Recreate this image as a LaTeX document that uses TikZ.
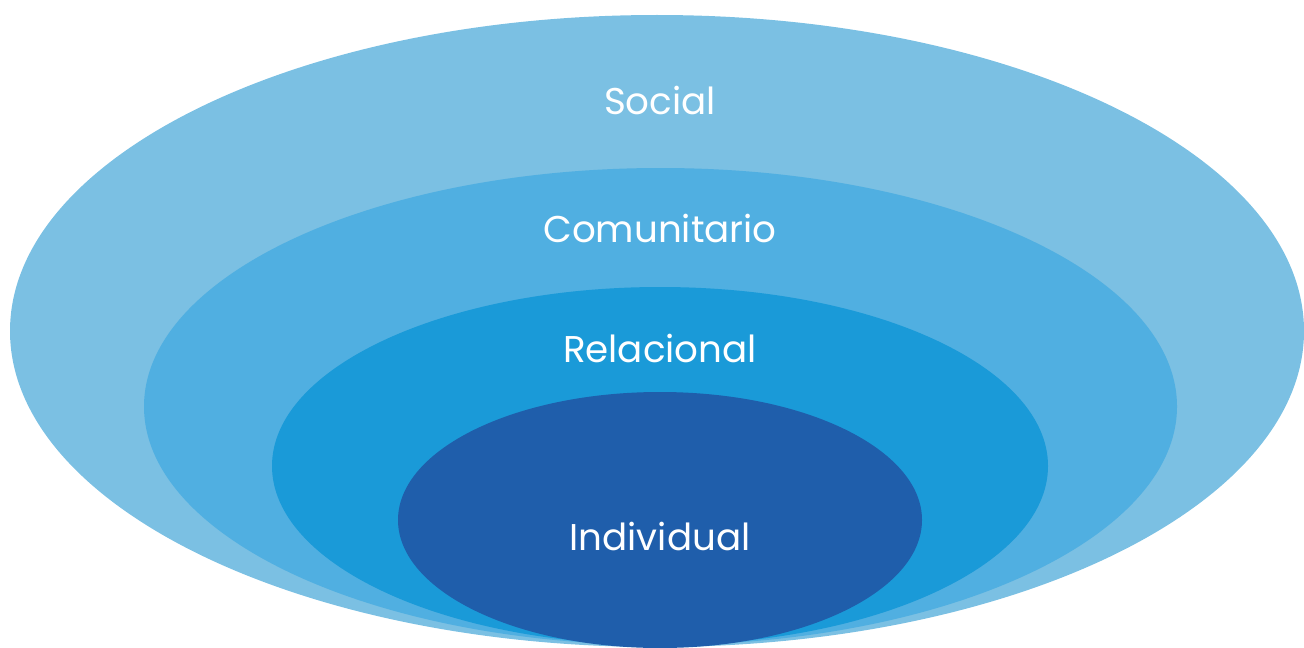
\documentclass[tikz,border=0pt]{standalone}
\usepackage{fontspec}
\setmainfont{Poppins}
\definecolor{socialblue}{HTML}{7BC0E3}
\definecolor{comblue}{HTML}{50AFE1}
\definecolor{relblue}{HTML}{1A9AD8}
\definecolor{indblue}{HTML}{1F5EAB}
\tikzset{level/.style={text=white, font=\fontsize{21.2}{25}\selectfont}}
\begin{document}
\begin{tikzpicture}[x=0.02cm, y=0.02cm]
      \useasboundingbox (0, 0) rectangle (1304, 647);
      \fill[socialblue] (657, 316) ellipse [x radius=647, y radius=316];
      \fill[comblue] (660.5, 240.5) ellipse [x radius=516.5, y radius=238.5];
      \fill[relblue] (660, 181) ellipse [x radius=388, y radius=179];
      \fill[indblue] (660, 127) ellipse [x radius=262, y radius=128];

      \node[level] (social) at (660, 547) {Social};
      \node[level] (comunitario) at (660, 419) {Comunitario};
      \node[level] (relacional) at (660, 299) {Relacional};
      \node[level] (individual) at (660, 111) {Individual};
    \end{tikzpicture}
\end{document}
